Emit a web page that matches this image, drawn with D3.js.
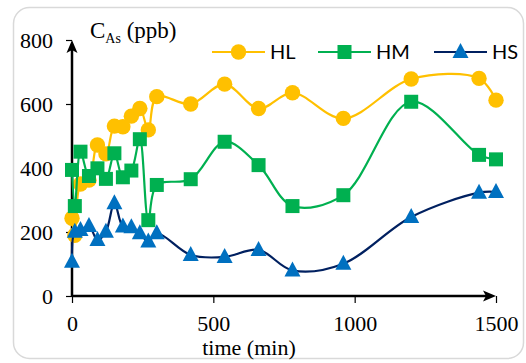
<!DOCTYPE html>
<html>
<head>
<meta charset="utf-8">
<script src="https://cdn.jsdelivr.net/npm/d3@7"></script>
<style>
  body { margin: 0; background: #fff; }
  svg { display: block; }
</style>
</head>
<body>
<div id="chart"></div>
<script>
// sampling times (min)
var times = [0, 10, 30, 60, 90, 120, 150, 180, 210, 240, 270, 300, 420, 540, 660, 780, 960, 1200, 1440, 1500];

// arsenic concentration per series (ppb)
var hlValues = [243, 190, 350, 362, 472, 444, 531, 529, 562, 586, 519, 623, 600, 662, 586, 635, 555, 678, 680, 612];
var hmValues = [394, 281, 451, 375, 399, 366, 446, 371, 392, 490, 237, 347, 365, 482, 409, 281, 315, 607, 441, 427];
var hsValues = [107, 201, 206, 219, 175, 201, 290, 217, 215, 196, 170, 196, 128, 122, 144, 80, 101, 247, 323, 325];

var seriesNames = ["HL", "HM", "HS"];
var xTicks = [0, 500, 1000, 1500];
var yTicks = [0, 200, 400, 600, 800];

var width = 526, height = 363;
var serif = "'Liberation Serif', serif";

var svg = d3.select("#chart").append("svg")
    .attr("width", width)
    .attr("height", height);

// rounded chart frame
svg.append("rect")
    .attr("x", 13.5).attr("y", 7.5)
    .attr("width", 510).attr("height", 351)
    .attr("rx", 16)
    .attr("fill", "#fff")
    .attr("stroke", "#d9d9d9")
    .attr("stroke-width", 1.5);

var x = d3.scaleLinear().domain([0, 1500]).range([72, 496]);
var y = d3.scaleLinear().domain([0, 800]).range([296, 40]);

// series styles
var series = [
    {name: "HL", values: hlValues, line: "#FFC000", fill: "#FFC000", shape: "circle"},
    {name: "HM", values: hmValues, line: "#00B050", fill: "#00B050", shape: "square"},
    {name: "HS", values: hsValues, line: "#002060", fill: "#0070C0", shape: "triangle"}
];

// marker drawing helper
function marker(g, shape, fill, cx, cy) {
    if (shape == "circle") {
        g.append("circle").attr("cx", cx).attr("cy", cy).attr("r", 7.7).attr("fill", fill);
    } else if (shape == "square") {
        g.append("rect").attr("x", cx - 7).attr("y", cy - 7).attr("width", 14).attr("height", 14).attr("fill", fill);
    } else {
        g.append("path")
            .attr("d", `M${cx},${cy - 9}L${cx + 8},${cy + 6}L${cx - 8},${cy + 6}Z`)
            .attr("fill", fill);
    }
}

// axes
svg.append("g")
    .attr("transform", `translate(0,${y(0)})`)
    .call(d3.axisBottom(x).tickValues(xTicks).tickSize(7).tickFormat(d3.format("d")))
    .attr("font-family", serif)
    .attr("font-size", 22)
    .call(g => g.select(".domain").remove())
    .call(g => g.selectAll("line").attr("stroke", "#000").attr("stroke-width", 1.2))
    .call(g => g.selectAll("text")
        .attr("y", 10)
        .attr("dy", 24.5)
        .style("font-family", serif)
        .attr("fill", "#000"));

svg.append("g")
    .attr("transform", `translate(${x(0)},0)`)
    .call(d3.axisLeft(y).tickValues(yTicks).tickSize(6))
    .attr("font-family", serif)
    .attr("font-size", 22)
    .call(g => g.select(".domain").remove())
    .call(g => g.selectAll("line").attr("stroke", "#000").attr("stroke-width", 1.2))
    .call(g => g.selectAll("text")
        .attr("x", -19)
        .attr("dy", "0.33em")
        .style("font-family", serif)
        .attr("fill", "#000"));

// axis lines with arrow heads
svg.append("line")
    .attr("x1", x(0)).attr("y1", y(0))
    .attr("x2", x(0)).attr("y2", y(800) + 10)
    .attr("stroke", "#000").attr("stroke-width", 2.5);
svg.append("path")
    .attr("d", `M${x(0)},${y(800)}L${x(0) + 5.5},${y(800) + 13}L${x(0)},${y(800) + 10}L${x(0) - 5.5},${y(800) + 13}Z`)
    .attr("fill", "#000");
svg.append("line")
    .attr("x1", x(0)).attr("y1", y(0))
    .attr("x2", x(1500) - 10).attr("y2", y(0))
    .attr("stroke", "#000").attr("stroke-width", 2.5);
svg.append("path")
    .attr("d", `M${x(1500)},${y(0)}L${x(1500) - 13},${y(0) - 5.5}L${x(1500) - 10},${y(0)}L${x(1500) - 13},${y(0) + 5.5}Z`)
    .attr("fill", "#000");

// lines and markers
var line = d3.line()
    .x(function(d) { return x(d.t); })
    .y(function(d) { return y(d.v); })
    .curve(d3.curveCatmullRom.alpha(0.5));

for (let s of series) {
    let pts = times.map(function(t, i) { return {t: t, v: s.values[i]}; });
    svg.append("path")
        .attr("d", line(pts))
        .attr("fill", "none")
        .attr("stroke", s.line)
        .attr("stroke-width", 2.2);
    let mg = svg.append("g");
    for (let p of pts) {
        marker(mg, s.shape, s.fill, x(p.t), y(p.v));
    }
}

// legend
var legendX = [212, 318, 434];
series.forEach(function(s, i) {
    let lg = svg.append("g");
    lg.append("line")
        .attr("x1", legendX[i]).attr("x2", legendX[i] + 53)
        .attr("y1", 52).attr("y2", 52)
        .attr("stroke", s.line).attr("stroke-width", 2.2);
    marker(lg, s.shape, s.fill, legendX[i] + 26.5, 52);
    lg.append("text")
        .attr("x", legendX[i] + 58)
        .attr("y", 59)
        .text(seriesNames[i])
        .style("font-family", "Lato, 'Open Sans', sans-serif")
        .style("font-size", "20px")
        .attr("fill", "#000");
});

// axis titles
var yTitle = svg.append("text")
    .attr("x", 90).attr("y", 38)
    .style("font-family", serif)
    .style("font-size", "23px")
    .attr("fill", "#000");
yTitle.append("tspan").text("C");
yTitle.append("tspan").attr("dy", 5).style("font-size", "14px").text("As");
yTitle.append("tspan").attr("dy", -5).text(" (ppb)");

svg.append("text")
    .attr("x", 249).attr("y", 355)
    .attr("text-anchor", "middle")
    .style("font-family", serif)
    .style("font-size", "22px")
    .attr("fill", "#000")
    .text("time (min)");
</script>
</body>
</html>
